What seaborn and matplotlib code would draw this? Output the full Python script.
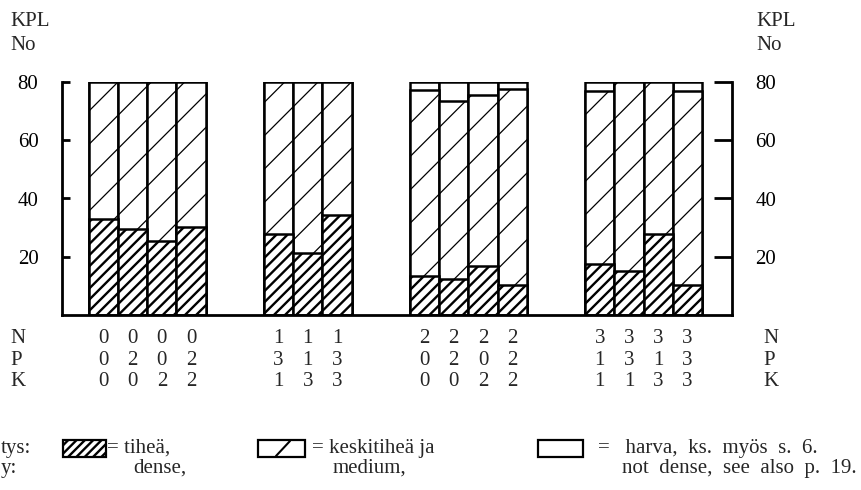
import matplotlib
matplotlib.use("Agg")
import matplotlib.pyplot as plt
import matplotlib.transforms as mtransforms
from matplotlib.patches import Rectangle
from matplotlib.lines import Line2D
import seaborn as sns
import pandas as pd

# left edge of each bar (in bar widths), four fertiliser groups
bar_left = [0, 1, 2, 3, 6, 7, 8, 11, 12, 13, 14, 17, 18, 19, 20]

# KPL/No, stacked: dense at bottom, medium up to medium_top, rest "harva"
dense = [32.8, 29.4, 25.4, 30.2, 27.7, 21.4, 34.2, 13.4, 12.5, 16.9, 10.3,
         17.4, 15.1, 27.7, 10.3]
medium_top = [80, 80, 80, 80, 80, 80, 80, 77.3, 73.6, 75.7, 77.5,
              77, 80, 80, 77]
total = [80] * 15

# fertiliser levels under each bar
n_level = list("0000" + "111" + "2222" + "3333")
p_level = list("0202" + "313" + "0202" + "1313")
k_level = list("0022" + "133" + "0022" + "1133")

yticks = [20, 40, 60, 80]

W, H = 861, 490


def fx(x):
    return x / W


def fy(y):
    return 1 - y / H


def main():
    sns.set_style("white")
    plt.rcParams["font.family"] = ["Liberation Serif", "DejaVu Serif"]
    plt.rcParams["hatch.color"] = "black"

    df = pd.DataFrame({
        "x": [b + 0.5 for b in bar_left],
        "dense": dense,
        "medium_top": medium_top,
        "total": total,
    })

    fig = plt.figure(figsize=(W / 100, H / 100), dpi=100)
    ax = fig.add_axes([fx(62), fy(315), (732 - 62) / W, (315 - 82) / H])

    # harva (not dense) = full column
    sns.barplot(data=df, x="x", y="total", native_scale=True, width=1,
                color="white", edgecolor="black", linewidth=1.8,
                errorbar=None, ax=ax)
    # keskitiheä (medium)
    plt.rcParams["hatch.linewidth"] = 0.9
    sns.barplot(data=df, x="x", y="medium_top", native_scale=True, width=1,
                color="white", edgecolor="black", linewidth=1.8, hatch="/",
                errorbar=None, ax=ax)
    # tiheä (dense)
    plt.rcParams["hatch.linewidth"] = 1.7
    sns.barplot(data=df, x="x", y="dense", native_scale=True, width=1,
                color="white", edgecolor="black", linewidth=1.8, hatch="///",
                errorbar=None, ax=ax)

    ax.set_xlim(-0.92, 22.03)
    ax.set_ylim(0, 80)
    ax.set_xlabel("")
    ax.set_ylabel("")
    ax.set_yticks(yticks)
    ax.spines["top"].set_visible(False)
    for s in ["left", "right", "bottom"]:
        ax.spines[s].set_visible(True)
        ax.spines[s].set_linewidth(2)
        ax.spines[s].set_color("black")
    fs = 15
    ax.tick_params(axis="x", bottom=False, labelbottom=False)
    ax.tick_params(axis="y", direction="in", left=True, right=True,
                   labelleft=True, labelright=True, length=6, width=2,
                   pad=17, labelsize=fs, colors="black")
    for t in ax.yaxis.get_major_ticks():
        t.tick2line.set_markersize(13)

    # axis unit labels
    for x0 in (10, 756):
        fig.text(fx(x0), fy(22), "KPL", ha="left", va="center", fontsize=fs)
        fig.text(fx(x0), fy(46), "No", ha="left", va="center", fontsize=fs)

    # N P K rows
    trans = mtransforms.blended_transform_factory(ax.transData, fig.transFigure)
    rows = [("N", n_level, 338), ("P", p_level, 360), ("K", k_level, 381)]
    for name, levels, y in rows:
        fig.text(fx(10), fy(y), name, ha="left", va="center", fontsize=fs)
        fig.text(fx(763), fy(y), name, ha="left", va="center", fontsize=fs)
        for xc, lev in zip(df["x"], levels):
            ax.text(xc, fy(y), lev, transform=trans, ha="center",
                    va="center", fontsize=fs)

    # explanation (left edge of the page is cropped in the original)
    y1, y2 = 448, 468
    fig.text(fx(1), fy(y1), "tys:", ha="left", va="center", fontsize=fs)
    fig.text(fx(1), fy(y2), "y:", ha="left", va="center", fontsize=fs)

    fig.add_artist(Rectangle((fx(63), fy(457)), 43 / W, 17 / H,
                             transform=fig.transFigure, facecolor="white",
                             edgecolor="black", lw=1.6, hatch="////"))
    fig.text(fx(107), fy(y1), "= tiheä,", ha="left", va="center", fontsize=fs)
    fig.text(fx(133), fy(y2), "dense,", ha="left", va="center", fontsize=fs)

    fig.add_artist(Rectangle((fx(258), fy(457)), 47 / W, 17 / H,
                             transform=fig.transFigure, facecolor="white",
                             edgecolor="black", lw=1.6))
    fig.add_artist(Line2D([fx(276), fx(290)], [fy(456), fy(441)],
                          transform=fig.transFigure, color="black", lw=1.5))
    fig.text(fx(312), fy(y1), "= keskitiheä ja", ha="left", va="center",
             fontsize=fs)
    fig.text(fx(333), fy(y2), "medium,", ha="left", va="center", fontsize=fs)

    fig.add_artist(Rectangle((fx(538), fy(457)), 45 / W, 17 / H,
                             transform=fig.transFigure, facecolor="white",
                             edgecolor="black", lw=1.6))
    fig.text(fx(598), fy(y1), "=   harva,  ks.  myös  s.  6.", ha="left",
             va="center", fontsize=fs)
    fig.text(fx(622), fy(y2), "not  dense,  see  also  p.  19.", ha="left",
             va="center", fontsize=fs)

    fig.savefig("out.png", dpi=100)


if __name__ == "__main__":
    main()
